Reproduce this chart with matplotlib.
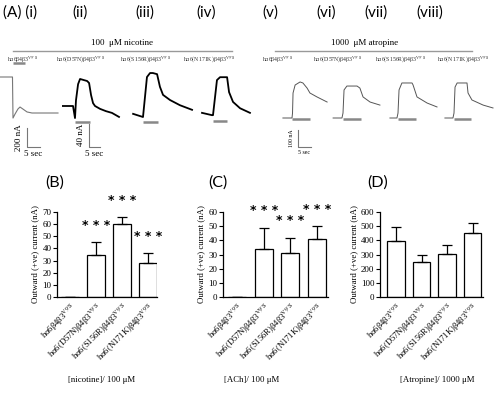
import matplotlib
matplotlib.use("Agg")
import matplotlib.pyplot as plt
import numpy as np

plt.rcParams['font.family'] = ['Liberation Serif', 'DejaVu Serif']
plt.rcParams['mathtext.fontset'] = 'stix'

# Bar chart data (mean, SEM)
genotypes = ["hα6β4β3", "hα6(D57N)β4β3", "hα6(S156R)β4β3", "hα6(N171K)β4β3"]
nic_mean = [0, 35, 60, 28]
nic_sem = [0, 10, 6, 8]
ach_mean = [0, 34, 31, 41]
ach_sem = [0, 15, 11, 9]
atr_mean = [395, 250, 305, 450]
atr_sem = [100, 45, 65, 70]
nic_sig = [False, True, True, True]
ach_sig = [False, True, True, True]

# Example traces, time (s) from drug onset, current (nA)
tr1_t = [-5.0, -0.2, 0, 0.8, 1.9, 2.7, 3.8, 5.4, 7.3, 17.3]
tr1_i = [0, 0, -432, -389, -337, -316, -337, -368, -379, -379]
tr2_t = [-5.5, -0.9, 0, 0.45, 1.4, 2.3, 4.1, 5.5, 6.4, 7.3, 8.2, 9.1, 11.4, 14.1, 16.8, 20]
tr2_i = [0, 0, -21, 10, 38, 47, 45, 43.5, 40, 19, 5, 0, -5, -9, -12, -19]
tr3_t = [-4.5, 0, 1.8, 3.2, 4.5, 6.4, 7.7, 9.1, 12.3, 16.8, 22.3]
tr3_i = [2, -3.5, 66, 73, 73, 71, 49, 35, 26, 17, 9]
tr4_t = [-5, -0.5, 0, 1.8, 3.2, 6.4, 7.3, 9.1, 12.3, 16.8]
tr4_i = [2, -2, -2, 59, 64, 64, 38, 21, 10, 2]
tr5_t = [-3.5, 0, 0.2, 0.4, 1.2, 3.1, 4.2, 5.8, 6.9, 9.6, 13.5]
tr5_i = [0, 0, 29, 147, 194, 212, 206, 176, 147, 124, 94]
tr6_t = [-3.8, -0.4, 0, 0.4, 1.5, 5.4, 6.5, 7.7, 10.4, 14.2]
tr6_i = [0, 0, 29, 165, 188, 188, 176, 124, 94, 76]
tr7_t = [-3.1, -0.4, 0, 0.4, 1.5, 5.4, 5.8, 7.3, 11.2, 15]
tr7_i = [0, 0, 29, 165, 206, 206, 194, 124, 88, 65]
tr8_t = [-3.5, -0.4, 0, 0.4, 1.2, 3.5, 5, 5.4, 6.9, 11.2, 15]
tr8_i = [0, 0, 29, 182, 206, 206, 206, 147, 106, 76, 59]
drug_dur = [4.6, 6.8, 6.8, 6.4, 6.9, 6.9, 6.9, 6.5]
trace_names = ["hα6β4β3", "hα6(D57N)β4β3", "hα6(S156R)β4β3", "hα6(N171K)β4β3"] * 2

W, H = 500, 395
fig = plt.figure(figsize=(W / 100, H / 100), dpi=100)


def box(x0, y0, x1, y1):
    return [x0 / W, 1 - y1 / H, (x1 - x0) / W, (y1 - y0) / H]


overlay = fig.add_axes([0, 0, 1, 1])
overlay.set_xlim(0, W)
overlay.set_ylim(H, 0)
overlay.axis('off')

# panel headers
heads = [("(A) (i)", 3), ("(ii)", 72), ("(iii)", 135), ("(iv)", 196),
         ("(v)", 262), ("(vi)", 316), ("(vii)", 364), ("(viii)", 416)]
for s, x in heads:
    overlay.text(x, 13, s, fontsize=11, family='Lato', va='center', ha='left')

overlay.text(122, 43, "100  μM nicotine", fontsize=6.5, ha='center', va='center')
overlay.plot([13, 232], [51, 51], color='#999999', lw=1)
overlay.text(365, 43, "1000  μM atropine", fontsize=6.5, ha='center', va='center')
overlay.plot([275, 472], [51, 51], color='#999999', lw=1)

name_x = [7, 56, 120, 183, 262, 313, 375, 437]
for nm, x in zip(trace_names, name_x):
    overlay.text(x, 60, nm + r"$^{\mathrm{V9′S}}$", fontsize=4.2, ha='left', va='center',
                 color='#333333')

# trace axes: (onset px, baseline px, px per s, px per nA, left px, right px, bar level px)
traces = [(tr1_t, tr1_i, 13, 77, 2.6, 0.095, 0, 62, 63),
          (tr2_t, tr2_i, 75, 106, 2.2, 0.575, 62, 125, 122),
          (tr3_t, tr3_i, 143, 115, 2.2, 0.575, 128, 195, 122),
          (tr4_t, tr4_i, 213, 114, 2.2, 0.575, 198, 255, 121),
          (tr5_t, tr5_i, 292, 118, 2.6, 0.17, 280, 330, 119),
          (tr6_t, tr6_i, 343, 118, 2.6, 0.17, 330, 385, 119),
          (tr7_t, tr7_i, 398, 118, 2.6, 0.17, 385, 440, 119),
          (tr8_t, tr8_i, 454, 118, 2.6, 0.17, 440, 498, 119)]
tax = []
for k, (t, cur, ox, oy, spx, npx, x0, x1, by) in enumerate(traces):
    ax = fig.add_axes(box(x0, 60, x1, 160))
    ax.set_xlim((x0 - ox) / spx, (x1 - ox) / spx)
    ax.set_ylim(-(160 - oy) / npx, -(60 - oy) / npx)
    ax.axis('off')
    if k == 0:
        col, lw = '#777777', 0.8
    elif k < 4:
        col, lw = 'black', 1.3
    else:
        col, lw = '#555555', 0.7
    ax.plot(t, cur, color=col, lw=lw)
    lev = -(by - oy) / npx
    ax.plot([0, drug_dur[k]], [lev, lev], color='#888888', lw=1.8, solid_capstyle='butt')
    tax.append(ax)


def scalebar(ax, t0, i0, amp, lab, fs):
    ax.plot([t0, t0, t0 + 5], [i0 + amp, i0, i0], color='#777777', lw=0.8, clip_on=False)
    ax.annotate(lab, (t0, i0 + amp / 2), xytext=(-3, 0), textcoords='offset points',
                rotation=90, ha='right', va='center', fontsize=fs, annotation_clip=False)
    ax.annotate("5 sec", (t0 + 2.5, i0), xytext=(0, -2), textcoords='offset points',
                ha='center', va='top', fontsize=fs, annotation_clip=False)


scalebar(tax[0], 5.4, -737, 200, "200 nA", 6.5)
scalebar(tax[1], 6.4, -71, 40, "40 nA", 6.5)
scalebar(tax[4], 2.3, -171, 100, "100 nA", 4.2)

# bar charts
panels = [("(B)", nic_mean, nic_sem, nic_sig, (57, 157), (-0.5, 3.35), 70, 10, 55, "[nicotine]/ 100 μM", 102),
          ("(C)", ach_mean, ach_sem, ach_sig, (223, 328), (-0.53, 3.42), 60, 10, 218, "[ACh]/ 100 μM", 252),
          ("(D)", atr_mean, atr_sem, [False] * 4, (380, 483), (-0.63, 3.41), 600, 100, 378, "[Atropine]/ 1000 μM", 437)]
x = np.arange(len(genotypes))
for lab, mean, sem, sig, (xa, xb), xl, ymax, step, lx, xlab, xlx in panels:
    ax = fig.add_axes(box(xa, 212, xb, 297))
    ax.bar(x, mean, width=0.68, color='white', edgecolor='black', lw=0.9)
    ax.errorbar(x, mean, yerr=[np.zeros(4), sem], fmt='none', ecolor='black',
                elinewidth=0.9, capsize=3.5, capthick=0.9)
    for xi, m, s, g in zip(x, mean, sem, sig):
        if g:
            ax.annotate("* * *", (xi, m + s), xytext=(0, 12), textcoords='offset points',
                        ha='center', va='center', fontsize=9, family='DejaVu Sans',
                        fontweight='bold', annotation_clip=False)
    ax.set_xlim(*xl)
    ax.set_ylim(0, ymax)
    ax.set_yticks(np.arange(0, ymax + 1, step))
    for sp in ['top', 'right']:
        ax.spines[sp].set_visible(False)
    for sp in ['left', 'bottom']:
        ax.spines[sp].set_linewidth(0.9)
    ax.tick_params(axis='y', labelsize=6.5, length=3, width=0.8, pad=1)
    ax.tick_params(axis='x', labelsize=6.2, length=0, pad=3)
    ax.set_xticks(x)
    ax.set_xticklabels([g + r"$^{\mathrm{V9′S}}$" for g in genotypes], rotation=45,
                       ha='right', va='top', rotation_mode='anchor')
    ax.set_ylabel("Outward (+ve) current (nA)", fontsize=6.3, labelpad=2)
    overlay.text(lx, 183, lab, fontsize=11.5, family='Lato', ha='center', va='center')
    overlay.text(xlx, 380, xlab, fontsize=6.3, ha='center', va='center')

fig.savefig("out.png", dpi=100)
